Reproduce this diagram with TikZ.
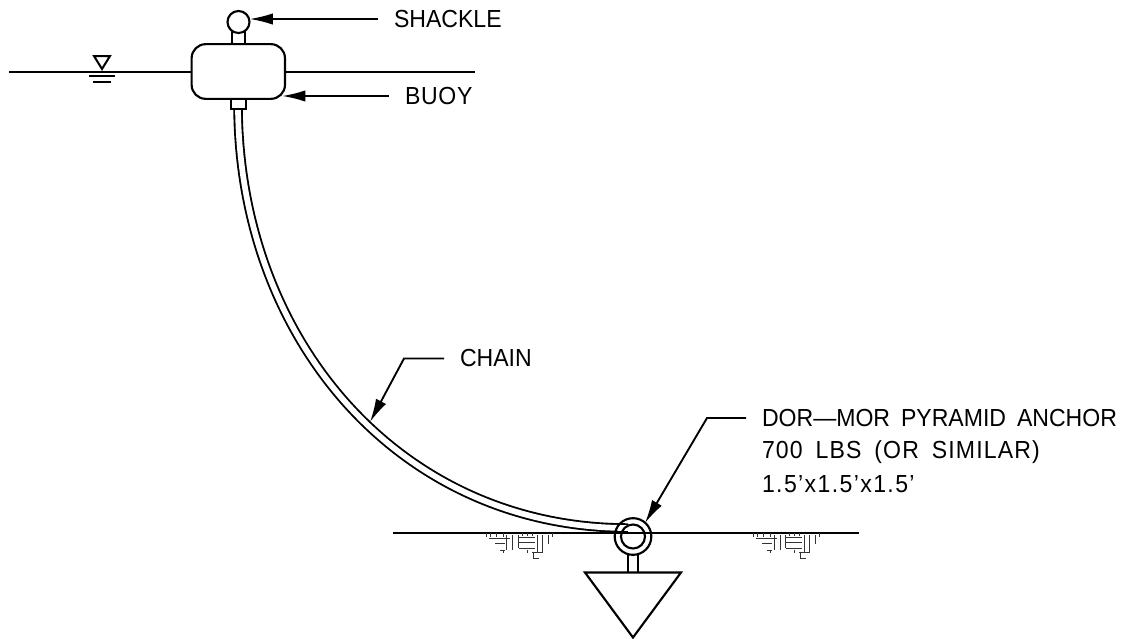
\documentclass[tikz,border=0pt]{standalone}
\usepackage{graphicx}
\usepackage{fontspec}
\setmainfont[WordSpace=1.7]{Liberation Sans}
\usetikzlibrary{arrows.meta,calc}
\newcommand{\tallt}[1]{\scalebox{1}[1.07]{#1}}
\tikzset{
  x=0.75pt,y=-0.75pt,
  ln/.style={line width=1.5pt,black},
  obj/.style={line width=1.6pt,black},
  lead/.style={line width=1.4pt,black,-{Latex[length=17.5pt,width=8.5pt]}},
  lab/.style={inner sep=0,outer sep=0,anchor=west,font=\fontsize{17.3}{17.3}\selectfont},
  hat/.style={line width=0.75pt,black!80},
}
\newcommand{\hatchmark}[1]{%
\begin{scope}[shift={(#1)}]
\draw[hat] (16,33)--(16,37) (20,33)--(20,37) (26,33)--(26,37) (33,33)--(33,37);
\draw[hat] (19,38.5)--(40,38.5) (25,43.5)--(35,43.5) (30,50)--(35,50) (33,50)--(33,53);
\draw[hat] (36.7,35)--(36.7,50) (42.7,35)--(42.7,50) (48,35)--(48,48);
\draw[hat] (49,37)--(65,37) (49,42.7)--(65,42.7) (49,48)--(65,48);
\draw[hat] (52,33)--(52,36) (57,33)--(57,36) (62,33)--(62,36) (57,50)--(57,53);
\draw[hat] (67,35)--(67,52) (72,35)--(72,52) (78,35)--(78,44) (82,33)--(82,37);
\draw[hat] (62,52.3)--(73,52.3) (63,52.3)--(63,58) (63,58)--(69,58);
\end{scope}}
\begin{document}
\begin{tikzpicture}
\useasboundingbox (0,0) rectangle (1133,639);
\fill[white] (0,0) rectangle (1133,639);
% water
\coordinate (w1) at (9,71.5); \coordinate (w2) at (475,71.5);
\draw[ln] (w1)--(191,71.5) (285,71.5)--(w2);
\draw[ln] (94,56)--(110,56)--(102,69)--cycle;
\draw[ln] (89,76)--(115,76) (93,81.5)--(111,81.5);
% chain
\draw[line width=1.4pt,double=white,double distance=4.3pt] (238,104) .. controls (238,340) and (400,528) .. (628,528);
% buoy
\draw[obj] (232,30)--(232,44) (245,30)--(245,44);
\node[obj,draw,fill=white,minimum size=16.5pt,circle,inner sep=0] (shackle) at (238.5,22) {};
\node[obj,draw,fill=white,rounded corners=10.5pt,minimum width=70pt,minimum height=41pt,inner sep=0] (buoy) at (238.3,71.5) {};
\node[obj,draw,fill=white,minimum width=11.5pt,minimum height=7.5pt,inner sep=0] (nipple) at (238.5,104) {};
% ground
\draw[ln] (393,532.5)--(859,532.5);
\hatchmark{470,500}
\hatchmark{737.3,500}
% anchor
\draw[obj] (628,553)--(628,572.5) (638,553)--(638,572.5);
\draw[obj,line join=miter] (585,572.5)--(681,572.5)--(633,637.5)--cycle;
\node[obj,draw,circle,minimum size=27.5pt,inner sep=0] (ring) at (633,536.5) {};
\node[obj,draw,circle,minimum size=18pt,inner sep=0] (eye) at (633,536.5) {};
% labels
\node[lab] (t1) at (394,19) {\tallt{SHACKLE}};
\node[lab] (t2) at (405,96) {\tallt{\addfontfeature{LetterSpace=3}BUOY}};
\node[lab] (t3) at (460,358.5) {\tallt{CHAIN}};
\node[lab] (t4) at (762,418) {\tallt{DOR---MOR PYRAMID ANCHOR}};
\node[lab] (t5) at (762,452) {\tallt{\addfontfeature{LetterSpace=5}700 LBS (OR SIMILAR)}};
\node[lab] (t6) at (762,484) {\tallt{\addfontfeature{LetterSpace=6}1.5'x1.5'x1.5'}};
% leaders
\coordinate (e1) at (378,19); \coordinate (a1) at (249.5,19);
\coordinate (e2) at (389,96); \coordinate (a2) at (282,96);
\coordinate (e3) at (444,358.5); \coordinate (b3) at (404,358.5); \coordinate (a3) at (370,422);
\coordinate (e4) at (746,418); \coordinate (b4) at (707,418); \coordinate (a4) at (645,523);
\draw[lead] (e1)--(a1);
\draw[lead] (e2)--(a2);
\draw[lead] (e3)--(b3)--(a3);
\draw[lead] (e4)--(b4)--(a4);
\end{tikzpicture}
\end{document}
